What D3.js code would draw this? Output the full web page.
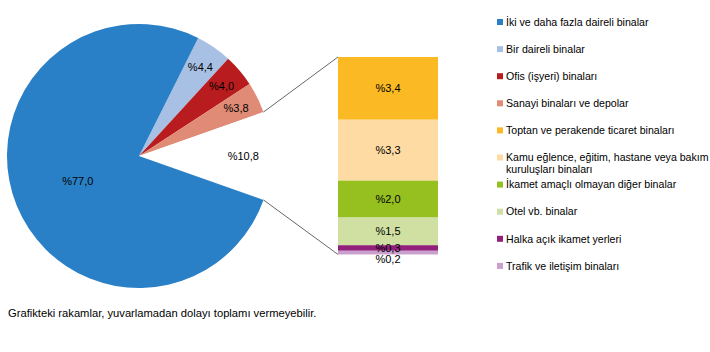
<!DOCTYPE html>
<html>
<head>
<meta charset="utf-8">
<script src="https://cdn.jsdelivr.net/npm/d3@7"></script>
<style>
  body { margin: 0; background: #fff; }
  text { font-family: "Liberation Sans", Arial, sans-serif; font-size: 11px; fill: #000; }
</style>
</head>
<body>
<svg></svg>
<script>
const size = {w: 710, h: 352};
const svg = d3.select('svg').attr('width', size.w).attr('height', size.h);

// pie slices (the 'other' slice is broken out into the bar)
const pieNames = ['Bir daireli binalar', 'Ofis (işyeri) binaları', 'Sanayi binaları ve depolar', 'Diğer', 'İki ve daha fazla daireli binalar'];
const pieValues = [4.4, 4.0, 3.8, 10.8, 77.0];
const pieLabels = ['%4,4', '%4,0', '%3,8', '%10,8', '%77,0'];
const pieColors = ['#a7c0e4', '#b91c1e', '#df8b76', '#ffffff', '#2a80c6'];

// bar of pie
const barNames = ['Toptan ve perakende ticaret binaları', 'Kamu eğlence, eğitim, hastane veya bakım kuruluşları binaları',
  'İkamet amaçlı olmayan diğer binalar', 'Otel vb. binalar', 'Halka açık ikamet yerleri', 'Trafik ve iletişim binaları'];
const barValues = [3.4, 3.3, 2.0, 1.5, 0.3, 0.2];
const barLabels = ['%3,4', '%3,3', '%2,0', '%1,5', '%0,3', '%0,2'];
const barColors = ['#fbb923', '#fddba2', '#95c020', '#cfe0a2', '#92207b', '#c99fcb'];

// legend
const legendNames = ['İki ve daha fazla daireli binalar', 'Bir daireli binalar', 'Ofis (işyeri) binaları', 'Sanayi binaları ve depolar',
  'Toptan ve perakende ticaret binaları', ['Kamu eğlence, eğitim, hastane veya bakım', 'kuruluşları binaları'],
  'İkamet amaçlı olmayan diğer binalar', 'Otel vb. binalar', 'Halka açık ikamet yerleri', 'Trafik ve iletişim binaları'];
const legendColors = ['#2a80c6', '#a7c0e4', '#b91c1e', '#df8b76', '#fbb923', '#fddba2', '#95c020', '#cfe0a2', '#92207b', '#c99fcb'];

const center = {x: 139, y: 156};
const R = 132;

// the "other" slice is centred on 3 o'clock
const total = d3.sum(pieValues);
const before = d3.sum(pieValues.slice(0, 3)) + pieValues[3] / 2;
const start = Math.PI / 2 - before / total * 2 * Math.PI;

const pie = d3.pie().sort(null).startAngle(start).endAngle(start + 2 * Math.PI);
const arcs = pie(pieValues);
const arc = d3.arc().innerRadius(0).outerRadius(R);

const pieG = svg.append('g').attr('transform', `translate(${center.x},${center.y})`);
pieG.selectAll('path')
    .data(arcs)
    .join('path')
    .attr('d', arc)
    .attr('fill', (d, i) => pieColors[i]);

pieG.selectAll('text')
    .data(arcs)
    .join('text')
    .attr('text-anchor', 'middle')
    .attr('dy', '0.35em')
    .attr('transform', (d, i) => {
        const a = (d.startAngle + d.endAngle) / 2;
        const r = i === 4 ? R * 0.5 : (i === 3 ? R * 0.79 : R * 0.82);
        return `translate(${r * Math.sin(a)},${-r * Math.cos(a)})`;
    })
    .text((d, i) => pieLabels[i]);

// bar
const barX = 338, barW = 100, barTop = 57;
const y = d3.scaleLinear().domain([0, 10.8]).range([barTop, barTop + 199.3]);
let acc = 0;
const stack = barValues.map((v, i) => {
    const s = {y0: acc, y1: acc + v, i: i};
    acc += v;
    return s;
});

const barG = svg.append('g');
barG.selectAll('rect')
    .data(stack)
    .join('rect')
    .attr('x', barX)
    .attr('width', barW)
    .attr('y', d => y(d.y0))
    .attr('height', d => y(d.y1) - y(d.y0))
    .attr('fill', d => barColors[d.i]);

barG.selectAll('text')
    .data(stack)
    .join('text')
    .attr('x', barX + barW / 2)
    .attr('y', d => d.i === 5 ? y(d.y1) + 5 : (y(d.y0) + y(d.y1)) / 2)
    .attr('dy', '0.35em')
    .attr('text-anchor', 'middle')
    .text(d => barLabels[d.i]);

// connector lines
const oth = arcs[3];
const p1 = [center.x + R * Math.sin(oth.startAngle), center.y - R * Math.cos(oth.startAngle)];
const p2 = [center.x + R * Math.sin(oth.endAngle), center.y - R * Math.cos(oth.endAngle)];
svg.append('line').attr('x1', p1[0]).attr('y1', p1[1]).attr('x2', barX).attr('y2', y(0))
    .attr('stroke', '#404040').attr('stroke-width', 0.8);
svg.append('line').attr('x1', p2[0]).attr('y1', p2[1]).attr('x2', barX).attr('y2', y(acc))
    .attr('stroke', '#404040').attr('stroke-width', 0.8);

// legend
const legG = svg.append('g').attr('transform', 'translate(497,22)');
const rows = legG.selectAll('g')
    .data(legendNames)
    .join('g')
    .attr('transform', (d, i) => `translate(0,${i * 27.1})`);
rows.append('rect')
    .attr('x', 0).attr('y', -3)
    .attr('width', 6).attr('height', 6)
    .attr('fill', (d, i) => legendColors[i]);
rows.append('text')
    .style('font-size', '10.6px')
    .each(function (d) {
        const lines = Array.isArray(d) ? d : [d];
        d3.select(this).selectAll('tspan')
            .data(lines)
            .join('tspan')
            .attr('x', 9)
            .attr('dy', (l, j) => j === 0 ? '0.35em' : '1.15em')
            .text(l => l);
    });

svg.append('text')
    .attr('x', 8)
    .attr('y', 317)
    .style('font-size', '11.2px')
    .text('Grafikteki rakamlar, yuvarlamadan dolayı toplamı vermeyebilir.');
</script>
</body>
</html>
